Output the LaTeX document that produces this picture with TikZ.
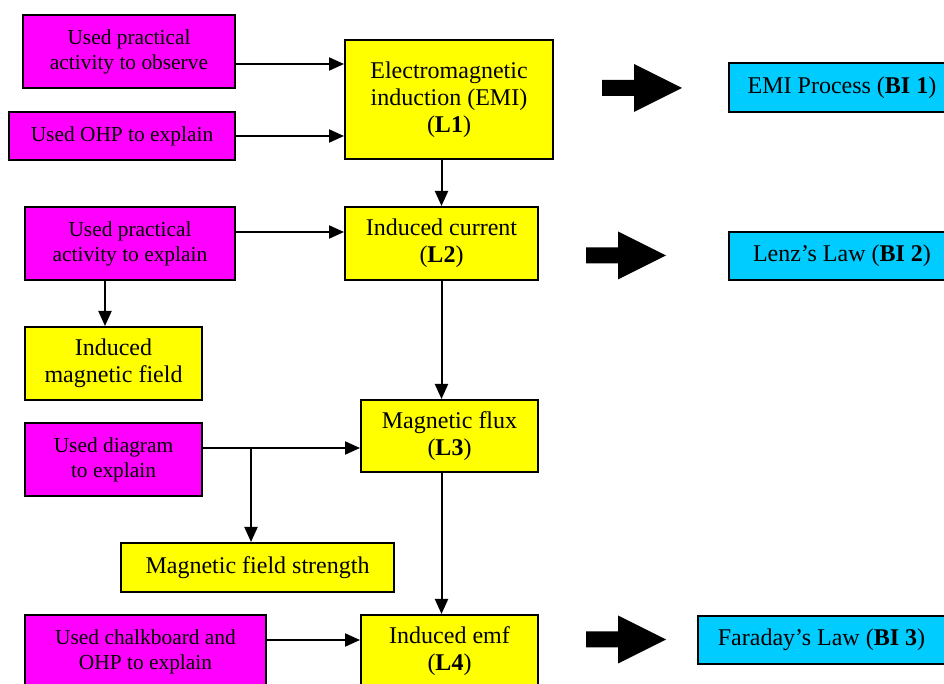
\documentclass[tikz,border=0pt]{standalone}
\usepackage{fontspec}
\setmainfont{Liberation Serif}
\usetikzlibrary{arrows.meta,calc}
\definecolor{magBox}{HTML}{FF00FF}
\definecolor{yelBox}{HTML}{FFFF00}
\definecolor{cynBox}{HTML}{00CCFF}
\begin{document}
\begin{tikzpicture}[x=0.5pt,y=-0.5pt,
  box/.style={draw=black,line width=1pt,inner sep=0pt,align=center,font=\fontsize{12}{13.5}\selectfont},
  mag/.style={box,fill=magBox,font=\fontsize{10.7}{12.5}\selectfont},
  yel/.style={box,fill=yelBox},
  cyn/.style={box,fill=cynBox},
  arr/.style={line width=1pt,-{Triangle[length=7.5pt,width=6.5pt]}},
  pics/bigarrow/.style={code={\fill[black] (0,-8) -- (32,-8) -- (32,-24) -- (80,0) -- (32,24) -- (32,8) -- (0,8) -- cycle;}}
]
\useasboundingbox (0,0) rectangle (944,684);
\clip (0,0) rectangle (944,684);
\fill[white] (0,0) rectangle (944,684);

% boxes
\node[mag, minimum width=106pt, minimum height=36.5pt] (P1) at (129,51.5) {Used practical\\activity to observe};
\node[mag, minimum width=113pt, minimum height=24pt] (P2) at (122,136) {Used OHP to explain};
\node[yel, minimum width=104pt, minimum height=59.5pt] (Y1) at (449,99.5) {Electromagnetic\\induction (EMI)\\(\textbf{L1})};
\node[cyn, minimum width=113pt, minimum height=24.5pt] (C1) at (842,87.5) {EMI Process (\textbf{BI 1})};

\node[mag, minimum width=105pt, minimum height=36.5pt] (P3) at (130,243.5) {Used practical\\activity to explain};
\node[yel, minimum width=96.5pt, minimum height=36.5pt] (Y2) at (441.5,243.5) {Induced current\\(\textbf{L2})};
\node[cyn, minimum width=113pt, minimum height=24pt] (C2) at (842,256) {Lenz’s Law (\textbf{BI 2})};

\node[yel, minimum width=88.5pt, minimum height=36.5pt] (Y3) at (113.5,363.5) {Induced\\magnetic field};

\node[mag, minimum width=88.5pt, minimum height=36.5pt] (P4) at (113.5,459.5) {Used diagram\\to explain};
\node[yel, minimum width=88.5pt, minimum height=36pt] (Y4) at (449.5,436) {Magnetic flux\\(\textbf{L3})};
\node[yel, minimum width=136.5pt, minimum height=24.5pt] (Y5) at (257.5,567.5) {Magnetic field strength};

\node[mag, minimum width=120.5pt, minimum height=36.5pt] (P5) at (145.5,651.5) {Used chalkboard and\\OHP to explain};
\node[yel, minimum width=88.5pt, minimum height=36.5pt] (Y6) at (449.5,651.5) {Induced emf\\(\textbf{L4})};
\node[cyn, minimum width=123.5pt, minimum height=24pt] (C3) at (821.5,640) {Faraday’s Law (\textbf{BI 3})};

% connectors
\coordinate (a1) at ($(P1.east)+(0,12.5)$);
\draw[arr] (a1) -- (a1 -| Y1.west);
\draw[arr] (P2.east) -- (P2.east -| Y1.west);
\draw[arr] (Y1.south -| Y2.north) -- (Y2.north);

\coordinate (a3) at ($(P3.east)+(0,-11.5)$);
\draw[arr] (a3) -- (a3 -| Y2.west);
\coordinate (d3) at ($(P3.south)+(-25,0)$);
\draw[arr] (d3) -- (d3 |- Y3.north);
\draw[arr] (Y2.south) -- (Y2.south |- Y4.north);

\coordinate (a4) at ($(P4.east)+(0,-11.5)$);
\draw[arr] (a4) -- (a4 -| Y4.west);
\coordinate (j4) at ($(a4)+(48,0)$);
\draw[arr] (j4) -- (j4 |- Y5.north);
\draw[arr] (Y4.south -| Y2.south) -- (Y6.north -| Y2.south);

\coordinate (a5) at ($(P5.east)+(0,-11.5)$);
\draw[arr] (a5) -- (a5 -| Y6.west);

% big block arrows
\pic at (602,88) {bigarrow};
\pic at (586,255.5) {bigarrow};
\pic at (586,639.5) {bigarrow};
\end{tikzpicture}
\end{document}
